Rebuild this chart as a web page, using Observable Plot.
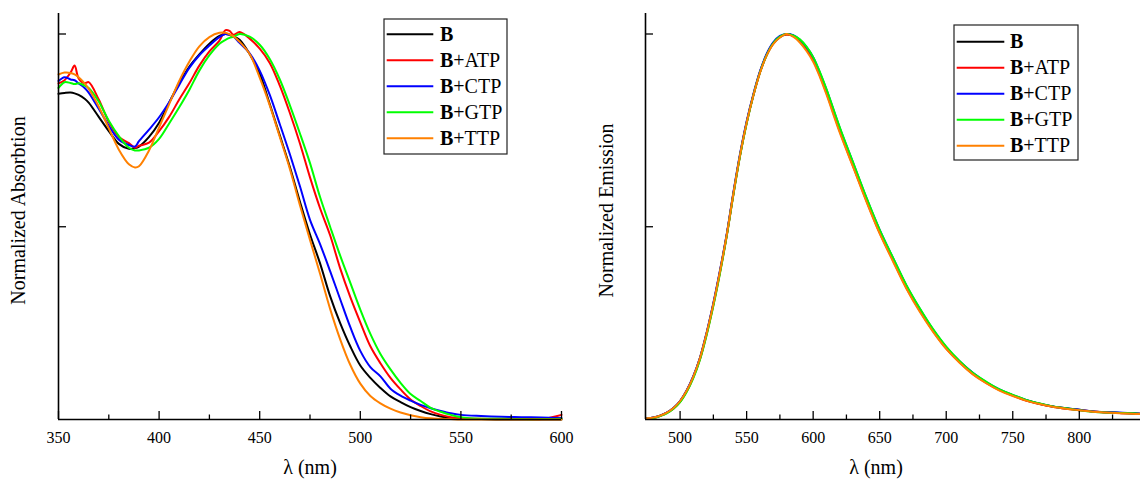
<!DOCTYPE html>
<html>
<head>
<meta charset="utf-8">
<script src="https://cdn.jsdelivr.net/npm/d3@7"></script>
<script src="https://cdn.jsdelivr.net/npm/@observablehq/plot@0.6"></script>
<style>
  body { margin: 0; background: #fff; }
  #wrap { position: relative; width: 1140px; height: 481px; overflow: hidden; background: #fff; }
  .panel { position: absolute; top: 0; }
  .legend { position: absolute; top: 0; }
</style>
</head>
<body>
<div id="wrap">
  <div id="left" class="panel" style="left:0px"></div>
  <div id="right" class="panel" style="left:580px"></div>
</div>
<script>
// ---------- DATA ----------
const seriesNames = ["B", "B+ATP", "B+CTP", "B+GTP", "B+TTP"];
const seriesColors = ["#000000", "#ff0000", "#0000ff", "#00ff00", "#ff8000"];

// Absorption (left panel)
const absWavelength = [350,353,356,358,360,363,365,370,375,380,385,388,390,395,400,405,410,415,420,425,430,433,435,437,440,445,450,455,460,465,470,475,480,485,490,495,500,505,510,515,520,525,530,535,540,545,550,560,570,580,590,600];
const absB   = [0.845,0.847,0.848,0.846,0.842,0.832,0.822,0.785,0.748,0.715,0.702,0.704,0.708,0.733,0.770,0.822,0.872,0.915,0.947,0.975,0.995,1.000,0.998,0.994,0.985,0.948,0.897,0.818,0.737,0.655,0.565,0.480,0.405,0.320,0.250,0.190,0.140,0.108,0.082,0.060,0.045,0.032,0.022,0.014,0.008,0.004,0.002,0.001,0.000,0.000,0.000,0.000];
const absATP = [0.872,0.880,0.900,0.918,0.885,0.872,0.875,0.830,0.772,0.733,0.717,0.705,0.710,0.718,0.748,0.785,0.830,0.872,0.918,0.955,0.983,1.010,1.008,0.998,1.005,0.988,0.962,0.925,0.866,0.795,0.716,0.628,0.548,0.478,0.392,0.318,0.252,0.190,0.146,0.108,0.078,0.052,0.035,0.021,0.012,0.006,0.003,0.002,0.001,0.002,0.001,0.012];
const absCTP = [0.878,0.888,0.882,0.880,0.872,0.860,0.848,0.806,0.762,0.726,0.712,0.708,0.722,0.752,0.784,0.823,0.868,0.912,0.945,0.970,0.992,1.000,0.998,0.993,0.977,0.950,0.905,0.842,0.766,0.688,0.605,0.518,0.455,0.385,0.312,0.240,0.178,0.136,0.112,0.080,0.062,0.049,0.038,0.029,0.022,0.016,0.012,0.009,0.007,0.006,0.005,0.004];
const absGTP = [0.860,0.875,0.873,0.870,0.872,0.866,0.860,0.825,0.775,0.735,0.705,0.698,0.698,0.705,0.728,0.768,0.810,0.855,0.905,0.945,0.975,0.985,0.990,0.993,1.000,0.993,0.972,0.935,0.882,0.815,0.742,0.665,0.577,0.500,0.425,0.355,0.285,0.222,0.170,0.130,0.095,0.066,0.048,0.030,0.020,0.012,0.006,0.002,0.002,0.001,0.001,0.002];
const absTTP = [0.895,0.900,0.899,0.895,0.888,0.872,0.858,0.812,0.755,0.700,0.662,0.654,0.657,0.698,0.758,0.818,0.878,0.928,0.968,0.992,1.003,1.003,0.999,0.994,0.980,0.948,0.887,0.815,0.733,0.650,0.556,0.466,0.378,0.287,0.208,0.142,0.093,0.061,0.042,0.028,0.018,0.011,0.006,0.003,0.002,0.001,0.000,0.000,0.000,0.000,0.000,0.000];

// Emission (right panel)
const emWavelength = [475,480,485,490,495,500,505,510,515,520,525,530,535,540,545,550,555,560,565,570,575,580,585,590,595,600,605,610,620,630,640,650,660,670,680,690,700,710,720,730,740,750,760,770,780,790,800,810,820,830,840,846];
const emB   = [0.003,0.005,0.010,0.018,0.030,0.048,0.075,0.112,0.160,0.225,0.300,0.385,0.478,0.585,0.685,0.770,0.840,0.900,0.945,0.975,0.992,1.000,0.995,0.982,0.962,0.935,0.895,0.850,0.750,0.660,0.570,0.487,0.415,0.345,0.285,0.232,0.186,0.150,0.120,0.096,0.077,0.063,0.050,0.041,0.034,0.029,0.025,0.021,0.019,0.017,0.016,0.015];
const emATP = [0.002,0.004,0.009,0.017,0.028,0.046,0.073,0.110,0.157,0.222,0.297,0.382,0.476,0.583,0.684,0.770,0.841,0.901,0.946,0.976,0.993,0.998,0.996,0.980,0.960,0.932,0.893,0.847,0.748,0.657,0.568,0.484,0.413,0.342,0.283,0.230,0.184,0.149,0.118,0.095,0.076,0.062,0.049,0.040,0.033,0.028,0.024,0.021,0.018,0.017,0.015,0.015];
const emCTP = [0.003,0.005,0.010,0.018,0.030,0.048,0.076,0.113,0.161,0.226,0.302,0.387,0.480,0.588,0.688,0.773,0.843,0.903,0.948,0.978,0.995,1.000,0.997,0.985,0.966,0.940,0.900,0.856,0.756,0.666,0.575,0.492,0.419,0.348,0.288,0.234,0.188,0.151,0.121,0.097,0.078,0.063,0.051,0.041,0.034,0.029,0.025,0.021,0.019,0.018,0.016,0.015];
const emGTP = [0.002,0.004,0.009,0.016,0.028,0.045,0.072,0.108,0.156,0.220,0.295,0.380,0.475,0.582,0.683,0.768,0.840,0.900,0.945,0.976,0.993,1.000,0.996,0.986,0.967,0.940,0.902,0.857,0.758,0.667,0.576,0.492,0.420,0.349,0.289,0.235,0.189,0.152,0.121,0.098,0.078,0.064,0.051,0.042,0.034,0.029,0.024,0.020,0.018,0.017,0.016,0.014];
const emTTP = [0.003,0.005,0.010,0.018,0.030,0.048,0.075,0.112,0.160,0.225,0.300,0.385,0.478,0.585,0.685,0.770,0.840,0.899,0.944,0.974,0.991,1.000,0.993,0.978,0.956,0.928,0.889,0.843,0.744,0.655,0.565,0.482,0.410,0.340,0.280,0.228,0.183,0.147,0.117,0.094,0.075,0.061,0.049,0.040,0.033,0.028,0.024,0.020,0.018,0.016,0.015,0.014];

// Ticks and labels
const absMajorTicks = [350, 400, 450, 500, 550, 600];
const absMinorTicks = [375, 425, 475, 525, 575];
const emMajorTicks = [500, 550, 600, 650, 700, 750, 800];
const emMinorTicks = [525, 575, 625, 675, 725, 775, 825];
const yTicks = [0.5, 1.0];
const xTitle = "λ (nm)";
const absYTitle = "Normalized Absorbtion";
const emYTitle = "Normalized Emission";

// ---------- CHART ----------
const FONT = "'Liberation Serif', 'Times New Roman', serif";
const H = 481, MT = 13, MB = 62;
const innerH = H - MT - MB;            // 406 px
const yTop = innerH / 385.5;           // 1.0 sits 385.5 px above the baseline
const yPerPx = yTop / innerH;

function panel({wl, series, xDomain, width, marginLeft, marginRight, major, minor, yTitle, yTitleDx, xTitleDx}) {
  const xPerPx = (xDomain[1] - xDomain[0]) / (width - marginLeft - marginRight);
  const lines = series.map((vals, k) =>
    Plot.line(wl.map((w, i) => ({w, v: vals[i]})), {
      x: "w", y: "v", stroke: seriesColors[k], strokeWidth: 2, curve: "catmull-rom"
    })
  );
  return Plot.plot({
    width, height: H,
    marginLeft, marginRight, marginTop: MT, marginBottom: MB,
    x: {domain: xDomain},
    y: {domain: [0, yTop], axis: null},
    style: {fontFamily: FONT, fontSize: "16px", background: "white", color: "black", overflow: "visible"},
    marks: [
      ...lines,
      Plot.ruleX([xDomain[0]], {stroke: "black", strokeWidth: 1.6}),
      Plot.ruleY([0], {stroke: "black", strokeWidth: 1.6}),
      Plot.ruleX(major, {x: d => d, y1: 0, y2: 8 * yPerPx, stroke: "black", strokeWidth: 1.3}),
      Plot.ruleX(minor, {x: d => d, y1: 0, y2: 4.5 * yPerPx, stroke: "black", strokeWidth: 1.3}),
      Plot.ruleY(yTicks, {y: d => d, x1: xDomain[0], x2: xDomain[0] + 8 * xPerPx, stroke: "black", strokeWidth: 1.3}),
      Plot.axisX(major, {tickSize: 0, tickPadding: 12, fontSize: 16, label: null, fill: "black"}),
      Plot.text([xTitle], {text: d => d, frameAnchor: "bottom", textAnchor: "middle", lineAnchor: "middle", dy: 48, dx: xTitleDx, fontSize: 20, fill: "black"}),
      Plot.text([yTitle], {text: d => d, frameAnchor: "left", textAnchor: "middle", lineAnchor: "middle", dx: yTitleDx, dy: -6, rotate: -90, fontSize: 20, fill: "black"})
    ]
  });
}

document.getElementById("left").appendChild(panel({
  wl: absWavelength,
  series: [absB, absATP, absCTP, absGTP, absTTP],
  xDomain: [350, 600], width: 575, marginLeft: 58, marginRight: 14,
  major: absMajorTicks, minor: absMinorTicks,
  yTitle: absYTitle, yTitleDx: -40, xTitleDx: 0
}));

document.getElementById("right").appendChild(panel({
  wl: emWavelength,
  series: [emB, emATP, emCTP, emGTP, emTTP],
  xDomain: [474, 846], width: 560, marginLeft: 65, marginRight: 0,
  major: emMajorTicks, minor: emMinorTicks,
  yTitle: emYTitle, yTitleDx: -39, xTitleDx: -17
}));

// ---------- LEGENDS ----------
function legend(left, top, w, h, rowTop, lineX0, lineX1, textX) {
  const svg = d3.select("#wrap").append("svg")
    .attr("class", "legend")
    .attr("width", w + 2).attr("height", h + 2)
    .style("left", (left - 1) + "px").style("top", (top - 1) + "px")
    .style("font-family", FONT);
  svg.append("rect").attr("x", 1).attr("y", 1).attr("width", w).attr("height", h)
    .attr("fill", "white").attr("stroke", "#222").attr("stroke-width", 1.2);
  seriesNames.forEach((name, i) => {
    const cy = 1 + rowTop + i * 26;
    svg.append("line").attr("x1", 1 + lineX0).attr("x2", 1 + lineX1)
      .attr("y1", cy).attr("y2", cy)
      .attr("stroke", seriesColors[i]).attr("stroke-width", 2);
    const t = svg.append("text").attr("x", 1 + textX).attr("y", cy + 6.6)
      .attr("font-size", 20).attr("fill", "black");
    t.append("tspan").attr("font-weight", "bold").text(name.slice(0, 1));
    if (name.length > 1) t.append("tspan").text(name.slice(1));
  });
}
legend(384, 19, 123, 135, 15.3, 2.7, 49.3, 56);
legend(954, 25, 124, 135, 16.7, 2.7, 50.3, 56);
</script>
</body>
</html>
